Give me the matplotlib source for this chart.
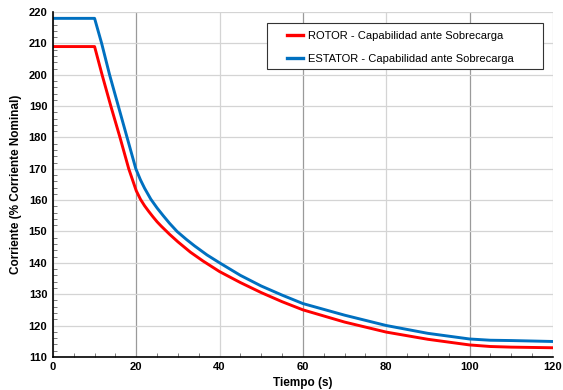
import matplotlib
matplotlib.use("Agg")
import matplotlib.pyplot as plt
from matplotlib.patches import Rectangle
from matplotlib.ticker import MultipleLocator

plt.rcParams['font.family'] = ['Liberation Sans', 'DejaVu Sans']

# ROTOR - capabilidad ante sobrecarga
rotor_t = [0, 10, 11.8, 13.9, 16.1, 18.2, 20, 21, 22, 23, 24, 25, 26, 28, 30, 33, 36,
           40, 45, 50, 55, 60, 70, 80, 90, 100, 105, 110, 120]
rotor_i = [209, 209, 200, 190, 180, 170, 163, 160.3, 158.2, 156.4, 154.7, 153.1, 151.7,
           149.1, 146.7, 143.4, 140.6, 137.2, 133.7, 130.5, 127.6, 125, 121.1, 117.9,
           115.6, 113.8, 113.3, 113.1, 112.9]

# ESTATOR - capabilidad ante sobrecarga
estator_t = [0, 10, 11.7, 13.6, 15.7, 17.8, 19.9, 21, 22, 23.5, 25, 26.5, 28, 29.8, 32,
             34, 37, 40, 45, 50, 55, 60, 70, 80, 90, 100, 105, 110, 120]
estator_i = [218, 218, 210, 200, 190, 180, 170, 166.5, 163.8, 160.3, 157.5, 155, 152.6,
             150, 147.5, 145.4, 142.5, 140, 136, 132.6, 129.7, 127, 123.3, 120, 117.5,
             115.7, 115.3, 115.2, 114.9]

labels = ["ROTOR - Capabilidad ante Sobrecarga", "ESTATOR - Capabilidad ante Sobrecarga"]

fig = plt.figure(figsize=(5.63, 3.9), dpi=100)
ax = fig.add_axes([0.094, 0.085, 0.888, 0.884])

ax.plot(rotor_t, rotor_i, color="#FF0000", lw=2.1, label=labels[0],
        solid_joinstyle="round")
ax.plot(estator_t, estator_i, color="#0070C0", lw=2.1, label=labels[1],
        solid_joinstyle="round")

ax.set_xlim(0, 120)
ax.set_ylim(110, 220)
ax.xaxis.set_major_locator(MultipleLocator(20))
ax.xaxis.set_minor_locator(MultipleLocator(5))
ax.yaxis.set_major_locator(MultipleLocator(10))
ax.yaxis.set_minor_locator(MultipleLocator(2))

ax.grid(True, which="major", color="#D4D4D4", lw=0.9)
ax.set_axisbelow(True)
# darker vertical gridlines as in the original
for gl, v in zip(ax.get_xgridlines(), ax.get_xticks()):
    if v in (20, 60, 100):
        gl.set_color("#9A9A9A")

for s in ("top", "right"):
    ax.spines[s].set_visible(False)
ax.spines["left"].set_linewidth(1.2)
ax.spines["bottom"].set_linewidth(1.2)

ax.tick_params(which="both", direction="in", length=3, width=0.6, color="#666666")
ax.tick_params(which="major", length=0, pad=4)
for lab in ax.get_xticklabels() + ax.get_yticklabels():
    lab.set_fontweight("bold")
    lab.set_fontsize(8)

ax.set_xlabel("Tiempo (s)", fontsize=8.5, fontweight="bold", labelpad=3)
ax.set_ylabel("Corriente (% Corriente Nominal)", fontsize=8.5, fontweight="bold", labelpad=5)

# legend frame (wider horizontal padding than matplotlib's uniform borderpad)
ax.add_patch(Rectangle((0.428, 0.835), 0.552, 0.133, transform=ax.transAxes,
                       facecolor="white", edgecolor="#333333", lw=0.8, zorder=4))
leg = ax.legend(loc="upper left", bbox_to_anchor=(0.468, 0.945), fontsize=8,
                frameon=False, handlelength=1.45, handletextpad=0.45,
                borderpad=0, labelspacing=1.15, borderaxespad=0)
leg.set_zorder(5)
for h in leg.get_lines():
    h.set_linewidth(2.4)

fig.savefig("out.png", dpi=100)
